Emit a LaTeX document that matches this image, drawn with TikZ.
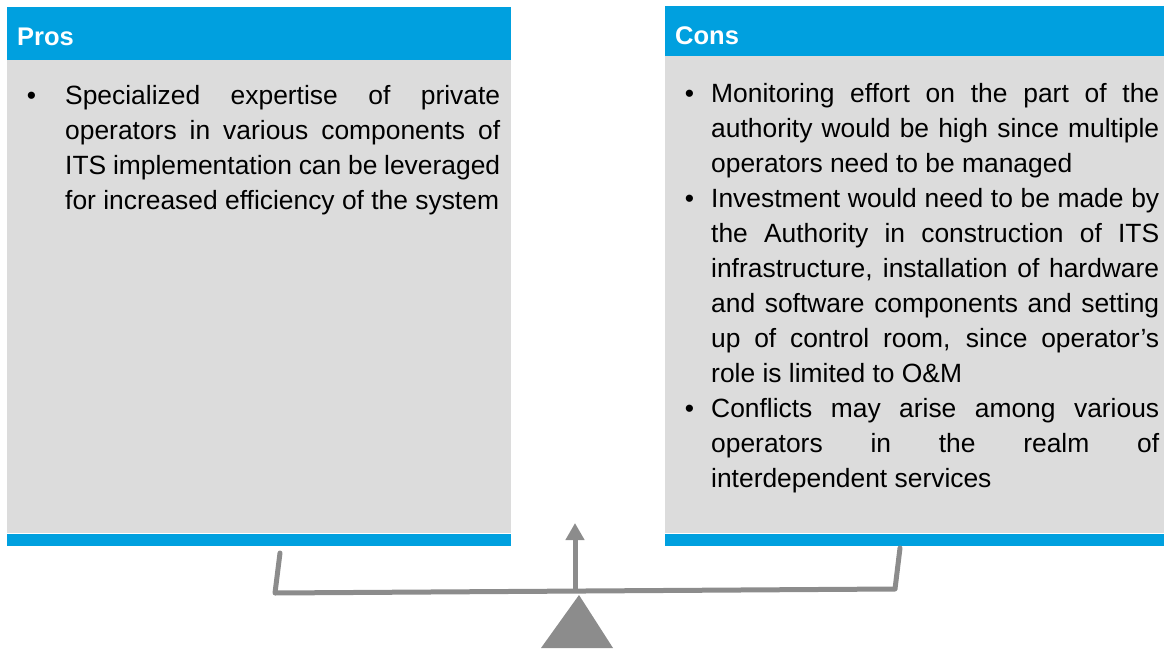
\documentclass[tikz,border=0pt]{standalone}
\usepackage{fontspec}
\setmainfont{Liberation Sans}
\usepackage{xcolor}
\usetikzlibrary{positioning,arrows.meta}

\definecolor{hdrblue}{RGB}{0,160,223}
\definecolor{panelgray}{RGB}{220,220,220}
\definecolor{beamgray}{RGB}{140,140,140}

% bullet list with hanging text
\newenvironment{dotlist}[2]{%
  \begin{list}{\textbullet}{\setlength{\leftmargin}{#1}\setlength{\labelwidth}{#2}%
    \setlength{\labelsep}{\dimexpr#1-#2\relax}\setlength{\itemsep}{0pt}%
    \setlength{\parsep}{0pt}\setlength{\topsep}{0pt}\setlength{\partopsep}{0pt}}}%
  {\end{list}}

\begin{document}
\begin{tikzpicture}[x=1pt, y=-1pt]
    \tikzset{
      header/.style = {rectangle, anchor=north west, fill=hdrblue, inner sep=0pt, minimum width=#1},
      panel/.style = {rectangle, anchor=north west, fill=panelgray, inner sep=0pt},
      bar/.style = {rectangle, anchor=north west, fill=hdrblue, inner sep=0pt, minimum height=12pt},
      title/.style = {anchor=base west, inner sep=0pt, text=white, font=\fontsize{25.5}{30}\selectfont\bfseries},
      bodytext/.style = {anchor=base west, inner sep=0pt, align=justify, font=\fontsize{26.4}{35}\selectfont},
      beam/.style = {line width=5pt, draw=beamgray, line cap=round, line join=round}
    }
    \useasboundingbox (0,0) rectangle (1164,650);

    % Pros
    \node (proshead) [header=504pt, minimum height=53pt] at (7,7) {};
    \node (prostitle) [title] at (17,46) {Pros};
    \node (prosbody) [panel, minimum width=504pt, minimum height=473pt] at (7,60) {};
    \node (prosbar) [bar, minimum width=504pt] at (prosbody.south west) {};
    \node (prostext) [bodytext, text width=478pt] at (22,70) {%
      \begin{dotlist}{43pt}{14pt}
      \item Specialized expertise of private\linebreak
        operators in various components of\linebreak
        ITS implementation can be leveraged\linebreak
        for increased efficiency of the system
      \end{dotlist}};

    % Cons
    \node (conshead) [header=499pt, minimum height=50pt] at (665,6) {};
    \node (constitle) [title] at (675,45) {Cons};
    \node (consbody) [panel, minimum width=499pt, minimum height=477pt] at (665,56) {};
    \node (consbar) [bar, minimum width=499pt] at (consbody.south west) {};
    \node (constext) [bodytext, text width=477pt] at (682,68) {%
      \begin{dotlist}{29pt}{12pt}
      \item Monitoring effort on the part of the\linebreak
        authority would be high since multiple\linebreak
        operators need to be managed
      \item Investment would need to be made by\linebreak
        the Authority in construction of ITS\linebreak
        infrastructure, installation of hardware\linebreak
        and software components and setting\linebreak
        up of control room, since operator’s\linebreak
        role is limited to O\&M
      \item Conflicts may arise among various\linebreak
        operators in the realm of\linebreak
        interdependent services
      \end{dotlist}};

    % balance
    \coordinate (lefttop) at (280,553);
    \coordinate (leftend) at (275,593);
    \coordinate (rightend) at (895,589);
    \coordinate (righttop) at (900,548);
    \coordinate (pivot) at (575,591);
    \coordinate (pointer) at (575,523);
    \draw [beam] (lefttop) -- (leftend) -- (rightend) -- (righttop);
    \draw [beam, line cap=butt, -{Triangle[width=18pt, length=17pt]}] (pivot) -- (pointer);
    \fill [beamgray] (579,595) -- (613,648) -- (541,648) -- cycle;
\end{tikzpicture}
\end{document}
